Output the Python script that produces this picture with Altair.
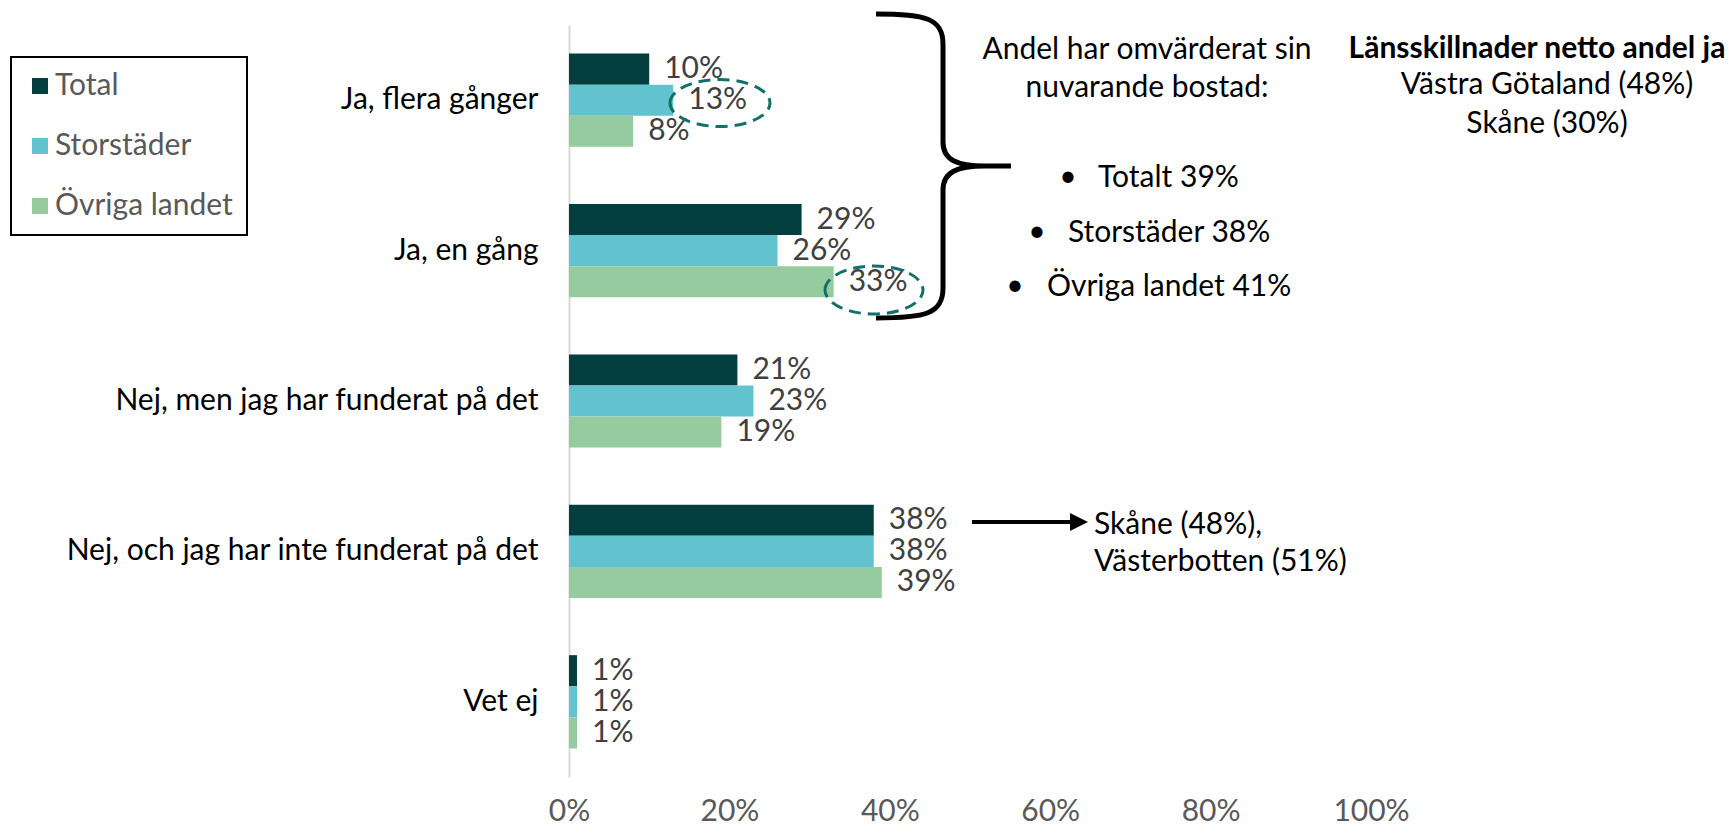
import altair as alt
import pandas as pd

# ---------------- data ----------------
categories = [
    "Ja, flera gånger",
    "Ja, en gång",
    "Nej, men jag har funderat på det",
    "Nej, och jag har inte funderat på det",
    "Vet ej",
]
groups = ["Total", "Storstäder", "Övriga landet"]
total = [0.10, 0.29, 0.21, 0.38, 0.01]
storstader = [0.13, 0.26, 0.23, 0.38, 0.01]
ovriga = [0.08, 0.33, 0.19, 0.39, 0.01]
x_ticks = [0, 0.2, 0.4, 0.6, 0.8, 1.0]
colors = ["#033F3F", "#62C3CF", "#96CB9F"]

rows = []
for grp, vals in zip(groups, [total, storstader, ovriga]):
    for cat, v in zip(categories, vals):
        rows.append({"Svar": cat, "Grupp": grp, "Andel": v})
df = pd.DataFrame(rows)

FONT = "Lato"
FS = 30

# page coordinates of the plot origin
OX, OY = 569, 25
W, H = 802, 752

base = alt.Chart(df).encode(
    y=alt.Y(
        "Svar:N",
        sort=categories,
        scale=alt.Scale(paddingInner=0.38, paddingOuter=0.19),
        axis=alt.Axis(
            title=None, labelFontSize=FS, labelColor="#000000", labelPadding=31,
            ticks=False, domainColor="#D9D9D9", domainWidth=2, labelFont=FONT,
            labelLimit=700,
        ),
    ),
    yOffset=alt.YOffset("Grupp:N", sort=groups),
)

bars = base.mark_bar().encode(
    x=alt.X(
        "Andel:Q",
        scale=alt.Scale(domain=[0, 1], nice=False),
        axis=alt.Axis(
            values=x_ticks, format=".0%", title=None, domain=False, ticks=False,
            grid=False, labelFontSize=FS, labelColor="#595959", labelPadding=19,
            labelFont=FONT, labelFlush=False,
        ),
    ),
    color=alt.Color(
        "Grupp:N",
        sort=groups,
        scale=alt.Scale(domain=groups, range=colors),
        legend=alt.Legend(
            title=None, orient="none", legendX=11 - OX, legendY=57 - OY,
            symbolType="square", symbolSize=256, symbolStrokeWidth=0,
            labelFontSize=FS, labelColor="#595959", labelFont=FONT,
            labelLimit=400, padding=14, rowPadding=30, labelOffset=0,
            strokeColor="#000000",
        ),
    ),
)

labels = base.mark_text(
    align="left", baseline="middle", dx=15, fontSize=FS, color="#404040", font=FONT
).encode(
    x="Andel:Q",
    text=alt.Text("Andel:Q", format=".0%"),
)

one = alt.Data(values=[{"k": 0}])


def note(text, px, py, align="center", weight="normal", size=FS):
    return alt.Chart(one).mark_text(
        text=text, align=align, baseline="middle", fontSize=size,
        fontWeight=weight, font=FONT, color="#000000",
    ).encode(x=alt.value(px - OX), y=alt.value(py - OY))


def fmt(v):
    return f"{v:.4f}"


# curly brace (decoration), pixel offsets around its centre
brace_r = 152.0
brace_cmds = [
    ("M", [(-67, -152)]),
    ("C", [(-18, -152), (0, -148), (0, -122)]),
    ("L", [(0, -24)]),
    ("C", [(0, -6), (14, 0), (42, 0)]),
    ("L", [(68, 0)]),
    ("M", [(42, 0)]),
    ("C", [(14, 0), (0, 6), (0, 24)]),
    ("L", [(0, 122)]),
    ("C", [(0, 148), (-18, 152), (-67, 152)]),
]
brace_path = " ".join(
    c + " " + " ".join(fmt(x / brace_r) + " " + fmt(y / brace_r) for x, y in pts)
    for c, pts in brace_cmds
)
brace = alt.Chart(one).mark_point(
    shape=brace_path, size=(2 * brace_r) ** 2, filled=False, color="#000000",
    strokeWidth=5, opacity=1,
).encode(x=alt.value(943 - OX), y=alt.value(166 - OY))


def ellipse_path(b):
    k = 0.5523
    return (
        f"M -1 0 C -1 {fmt(-b*k)} {fmt(-k)} {fmt(-b)} 0 {fmt(-b)} "
        f"C {fmt(k)} {fmt(-b)} 1 {fmt(-b*k)} 1 0 "
        f"C 1 {fmt(b*k)} {fmt(k)} {fmt(b)} 0 {fmt(b)} "
        f"C {fmt(-k)} {fmt(b)} -1 {fmt(b*k)} -1 0 Z"
    )


def ellipse(cx, cy, rx, ry):
    return alt.Chart(one).mark_point(
        shape=ellipse_path(ry / rx), size=(2 * rx) ** 2, filled=False,
        color="#12706B", strokeWidth=3, strokeDash=[12, 7], opacity=1,
    ).encode(x=alt.value(cx - OX), y=alt.value(cy - OY))


arrow_line = alt.Chart(one).mark_rule(strokeWidth=4, color="#000000").encode(
    x=alt.value(972 - OX), x2=alt.value(1074 - OX), y=alt.value(522 - OY)
)
arrow_head = alt.Chart(one).mark_point(
    shape="M -1 -1 L 1 0 L -1 1 Z", size=324, filled=True, color="#000000", opacity=1
).encode(x=alt.value(1079 - OX), y=alt.value(522 - OY))

notes = [
    note("Andel har omvärderat sin", 1147, 50),
    note("nuvarande bostad:", 1147, 88),
    note("•", 1068, 177),
    note("Totalt 39%", 1098, 178, align="left"),
    note("•", 1037, 232),
    note("Storstäder 38%", 1068, 233, align="left"),
    note("•", 1015, 286),
    note("Övriga landet 41%", 1047, 287, align="left"),
    note("Länsskillnader netto andel ja", 1537, 49, weight="bold"),
    note("Västra Götaland (48%)", 1547, 85),
    note("Skåne (30%)", 1547, 124),
    note("Skåne (48%),", 1094, 525, align="left"),
    note("Västerbotten (51%)", 1094, 562, align="left"),
]

chart = alt.layer(
    bars, labels, brace, ellipse(720, 103, 50, 23.5), ellipse(874, 290, 49, 24),
    arrow_line, arrow_head, *notes,
).properties(
    width=W,
    height=H,
    autosize=alt.AutoSizeParams(type="none"),
    padding={"left": OX - 8, "top": OY - 8, "right": 1717 - (OX - 8) - W, "bottom": 817 - (OY - 8) - H},
).configure_view(stroke=None).configure_legend(strokeWidth=2)

chart.save("out.html", embed_options={"renderer": "svg", "actions": False})
